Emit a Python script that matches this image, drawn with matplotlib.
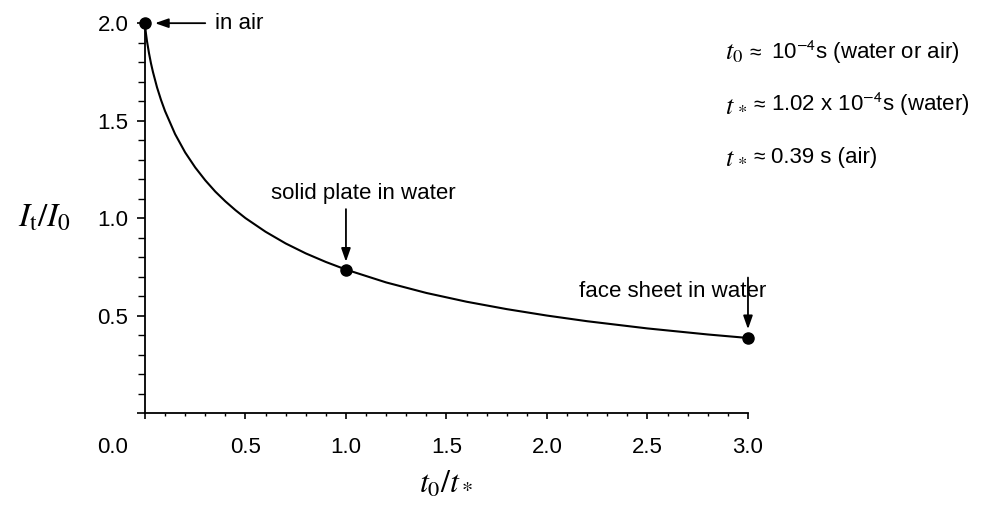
import matplotlib
matplotlib.use("Agg")
import matplotlib.pyplot as plt
from matplotlib.ticker import MultipleLocator, FixedLocator
import matplotlib.transforms as mtransforms

plt.rcParams['font.family'] = ['Liberation Sans', 'DejaVu Sans']
plt.rcParams['mathtext.fontset'] = 'stix'

# Curve: t0/t* vs It/I0
ratio = [0.0, 0.001, 0.002, 0.005, 0.01, 0.02, 0.03, 0.04, 0.06, 0.08, 0.1, 0.15,
         0.2, 0.25, 0.3, 0.35, 0.4, 0.45, 0.5, 0.6, 0.7, 0.8, 0.9, 1.0, 1.2, 1.4,
         1.6, 1.8, 2.0, 2.2, 2.5, 2.8, 3.0]
impulse = [2.0, 1.986, 1.975, 1.947, 1.909, 1.847, 1.794, 1.749, 1.671, 1.606, 1.549, 1.431,
           1.337, 1.260, 1.194, 1.136, 1.086, 1.041, 1.0, 0.930, 0.870, 0.819, 0.775, 0.736, 0.670, 0.616,
           0.571, 0.533, 0.500, 0.471, 0.434, 0.403, 0.385]

# Marked cases
case_x = [0.0, 1.0, 3.0]
case_y = [2.0, 0.736, 0.385]
case_labels = ["in air", "solid plate in water", "face sheet in water"]

x_ticks = [0.0, 0.5, 1.0, 1.5, 2.0, 2.5, 3.0]
x_ticklabels = ["0.0", "0.5", "1.0", "1.5", "2.0", "2.5", "3.0"]
y_ticks = [0.0, 0.5, 1.0, 1.5, 2.0]
y_ticklabels = ["", "0.5", "1.0", "1.5", "2.0"]

note_vars = [r"$t_0$", r"$t_{\,*}$", r"$t_{\,*}$"]
note_texts = [r"10$^{\mathsf{-4}}$s (water or air)",
              r"1.02 x 10$^{\mathsf{-4}}$s (water)",
              r"0.39 s (air)"]

fig = plt.figure(figsize=(9.86, 5.15), dpi=100)
ax = fig.add_axes([0.147, 0.198, 0.6116, 0.757])

ax.plot(ratio, impulse, color='black', lw=1.5, clip_on=False, zorder=3)
ax.plot(case_x, case_y, 'o', color='black', ms=8, clip_on=False, zorder=4)

ax.set_xlim(0, 3)
ax.set_ylim(0, 2)
for s in ['top', 'right']:
    ax.spines[s].set_visible(False)
for s in ['left', 'bottom']:
    ax.spines[s].set_linewidth(1.3)

ax.xaxis.set_major_locator(FixedLocator(x_ticks))
ax.set_xticklabels(x_ticklabels)
ax.xaxis.set_minor_locator(MultipleLocator(0.1))
ax.yaxis.set_major_locator(FixedLocator(y_ticks))
ax.set_yticklabels(y_ticklabels)
ax.yaxis.set_minor_locator(MultipleLocator(0.1))

ax.tick_params(axis='x', which='major', direction='out', length=4.5, width=1.2, pad=13, labelsize=16)
ax.tick_params(axis='x', which='minor', direction='out', length=2.5, width=1.0)
ax.tick_params(axis='y', which='major', direction='out', length=6, width=1.2, pad=6, labelsize=16)
ax.tick_params(axis='y', which='minor', direction='out', length=5, width=1.0)

# shift the "0.0" x label left, away from the y axis
lbl0 = ax.get_xticklabels()[0]
lbl0.set_transform(lbl0.get_transform() + mtransforms.ScaledTranslation(-0.32, 0, fig.dpi_scale_trans))

ax.set_ylabel(r"$I_\mathrm{t}/I_0$", fontsize=24, rotation=0, va='center', ha='center')
ax.yaxis.set_label_coords(-0.167, 0.5)
ax.set_xlabel(r"$t_0/t_*$", fontsize=23, va='center')
ax.xaxis.set_label_coords(0.5, -0.185)

arrow = dict(arrowstyle='-|>,head_length=0.8,head_width=0.28', color='black', lw=1.3, shrinkA=0, shrinkB=0)

# in air
ax.annotate('', xy=(case_x[0] + 0.05, case_y[0]), xytext=(case_x[0] + 0.30, case_y[0]),
            arrowprops=arrow, annotation_clip=False)
ax.text(case_x[0] + 0.35, case_y[0], case_labels[0], fontsize=16, va='center', ha='left')

# solid plate in water
ax.annotate('', xy=(case_x[1], case_y[1] + 0.04), xytext=(case_x[1], case_y[1] + 0.31),
            arrowprops=arrow, annotation_clip=False)
ax.text(case_x[1] + 0.085, 1.097, case_labels[1], fontsize=16, va='baseline', ha='center')

# face sheet in water
ax.annotate('', xy=(case_x[2], case_y[2] + 0.045), xytext=(case_x[2], case_y[2] + 0.31),
            arrowprops=arrow, annotation_clip=False)
ax.text(2.627, 0.595, case_labels[2], fontsize=16, va='baseline', ha='center')

# notes
approx_x = [749, 753, 753]
for i, (v, t) in enumerate(zip(note_vars, note_texts)):
    y = 1 - (59 + 52 * i) / 515
    fig.text(725 / 986, y, v, fontsize=19, va='baseline', ha='left')
    fig.text(approx_x[i] / 986, y, "≈", fontsize=15, va='baseline', ha='left')
    fig.text(771 / 986, y, t, fontsize=16, va='baseline', ha='left')

fig.savefig('out.png', dpi=100)
